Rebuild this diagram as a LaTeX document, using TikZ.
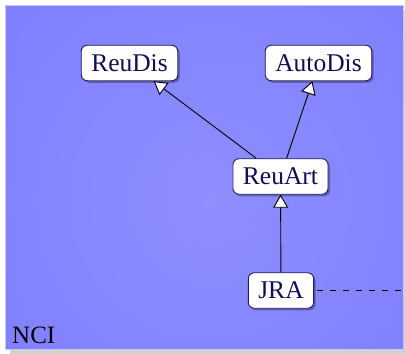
\documentclass[tikz,border=0pt]{standalone}
\usepackage{fontspec}
\setmainfont{Liberation Serif}
\usetikzlibrary{arrows.meta,shadows}
\definecolor{bgout}{RGB}{112,112,255}
\definecolor{bgin}{RGB}{142,142,255}
\definecolor{bgedge}{RGB}{200,200,255}
\definecolor{navy}{RGB}{16,16,80}
\definecolor{boxedge}{RGB}{30,30,90}
\tikzset{
  cls/.style={draw=boxedge, line width=0.9pt, fill=white, rounded corners=6pt,
    inner xsep=10pt, inner ysep=0pt, minimum height=35.5pt, text=navy,
    font=\fontsize{25.5}{30}\selectfont,
    drop shadow={shadow xshift=2pt, shadow yshift=-2pt, fill=black, opacity=0.3}},
  inh/.style={line width=0.9pt, draw=black, -{Triangle[length=13pt,width=15pt,fill=white,line width=0.9pt]}},
  dashline/.style={line width=1pt, dash pattern=on 6pt off 7pt, dash phase=-3pt}
}
\begin{document}
\begin{tikzpicture}[x=1pt,y=-1pt]
\useasboundingbox (0,0) rectangle (405,354);
\fill[white] (0,0) rectangle (405,354);
\fill[black!18] (10,10) rectangle (407,354);
\begin{scope}
\clip (5,5) rectangle (403,349.5);
\shade[inner color=bgin, outer color=bgout] (210,200) circle (560pt);
\end{scope}
\draw[bgedge, line width=1pt] (5,5) rectangle (403,349.5);
\node[cls] (reudis) at (129.5,63) {ReuDis};
\node[cls] (autodis) at (318.5,63) {AutoDis};
\node[cls] (reuart) at (280.5,176.5) {ReuArt};
\node[cls] (jra) at (281,290.5) {JRA};
\node[anchor=base west, inner sep=0pt, font=\fontsize{25}{30}\selectfont] (nci) at (12,343) {NCI};
\coordinate (dend) at (403,290.5);
\draw[inh] (reuart) -- (reudis);
\draw[inh] (reuart) -- (autodis);
\draw[inh] (jra) -- (reuart);
\draw[dashline] (jra) -- (dend);
\end{tikzpicture}
\end{document}
